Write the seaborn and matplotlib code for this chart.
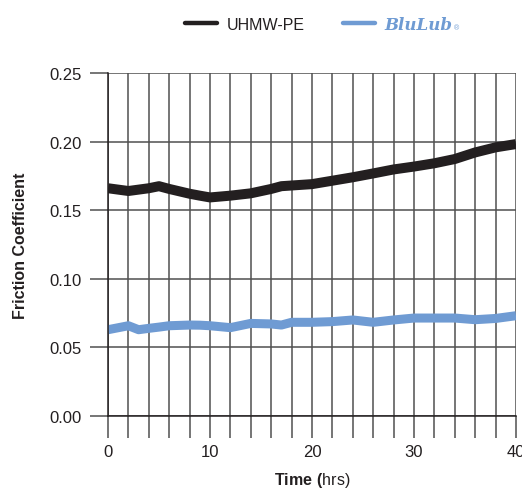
import numpy as np
import pandas as pd
import matplotlib
matplotlib.use('Agg')
import matplotlib.pyplot as plt
from matplotlib.lines import Line2D
from matplotlib.ticker import MultipleLocator
import seaborn as sns

# values
time_hrs = [0, 2, 3, 4, 5, 6, 8, 9, 10, 12, 14, 16, 17, 18, 20, 22, 24, 26, 28, 30, 32, 34, 36, 38, 40]
uhmw_pe = [0.166, 0.164, 0.165, 0.166, 0.1675, 0.1655, 0.162, 0.1606, 0.1593, 0.1606, 0.1623, 0.1655,
           0.1675, 0.168, 0.169, 0.1715, 0.174, 0.1768, 0.1797, 0.1818, 0.1842, 0.1873, 0.1921, 0.1958, 0.1982]
blulub = [0.0629, 0.0658, 0.0629, 0.0639, 0.0648, 0.0658, 0.0663, 0.0662, 0.0658, 0.0644, 0.0675, 0.0671,
          0.0663, 0.0683, 0.0683, 0.0688, 0.070, 0.0683, 0.070, 0.0714, 0.0714, 0.0714, 0.0702, 0.0711, 0.0731]
series_names = ['UHMW-PE', 'BluLub']
y_ticks = [0.00, 0.05, 0.10, 0.15, 0.20, 0.25]
x_ticks = [0, 10, 20, 30, 40]

df = pd.DataFrame({
    'Time': time_hrs * 2,
    'Friction': uhmw_pe + blulub,
    'Material': [series_names[0]] * len(time_hrs) + [series_names[1]] * len(time_hrs),
})

sns.set_style('white')
plt.rcParams['font.family'] = ['Liberation Sans', 'DejaVu Sans']
plt.rcParams['mathtext.fontset'] = 'custom'
plt.rcParams['mathtext.bf'] = 'Liberation Sans:bold'
plt.rcParams['mathtext.rm'] = 'Liberation Sans'

black = '#231f20'
blue = '#6f9bd3'
grid_col = '#505050'

fig = plt.figure(figsize=(5.22, 4.89), dpi=100)
ax = fig.add_axes([0.2069, 0.1472, 0.7816, 0.7015])

# grid first so the data sits on top
ax.set_xlim(0, 40)
ax.set_ylim(0, 0.25)
ax.xaxis.set_major_locator(MultipleLocator(10))
ax.xaxis.set_minor_locator(MultipleLocator(2))
ax.set_yticks(y_ticks)
ax.grid(True, which='both', axis='x', color=grid_col, lw=1.1)
ax.grid(True, which='major', axis='y', color=grid_col, lw=1.1)
ax.set_axisbelow(True)

sns.lineplot(data=df, x='Time', y='Friction', hue='Material', palette=[black, blue],
             lw=7, ax=ax, legend=False)
ax.lines[0].set_linewidth(7.2)
ax.lines[1].set_linewidth(6.5)
for ln in ax.lines:
    ln.set_solid_capstyle('butt')
    ln.set_solid_joinstyle('round')

ax.set_xlim(0, 40)
ax.set_ylim(0, 0.25)
ax.set_xticks(x_ticks)
ax.set_xticklabels([str(t) for t in x_ticks])
ax.set_yticks(y_ticks)
ax.set_yticklabels([f'{v:.2f}' for v in y_ticks])

for s in ['top', 'right']:
    ax.spines[s].set_visible(False)
ax.spines['left'].set_color(black)
ax.spines['bottom'].set_color(black)
ax.spines['left'].set_linewidth(1.1)
ax.spines['bottom'].set_linewidth(1.1)

ax.tick_params(axis='y', which='major', direction='out', length=13, width=1.1, color=grid_col,
               labelsize=12, pad=6, labelcolor=black, left=True)
ax.tick_params(axis='x', which='both', direction='out', length=16, width=1.1, color=grid_col,
               labelsize=12, pad=4, labelcolor=black, bottom=True)

ax.set_ylabel('Friction Coefficient', fontsize=11.5, fontweight='bold', color=black, labelpad=15)
ax.set_xlabel(r'$\mathbf{Time\ (}$hrs)', fontsize=11.5, color=black, labelpad=8)

handles = [Line2D([0], [0], color=black, lw=3.2), Line2D([0], [0], color=blue, lw=3.2)]
leg = fig.legend(handles, series_names, loc='center', ncol=2, bbox_to_anchor=(0.61, 0.948),
                 frameon=False, fontsize=11.5, handlelength=2.0, handletextpad=0.6, columnspacing=2.4)
leg.get_texts()[0].set_color(black)
t = leg.get_texts()[1]
t.set_color(blue)
t.set_fontfamily('DejaVu Serif')
t.set_fontweight('bold')
t.set_fontstyle('italic')
t.set_fontsize(12)
fig.text(0.869, 0.941, '®', fontsize=5, color=blue, ha='left', va='center')

fig.savefig('out.png', dpi=100)
